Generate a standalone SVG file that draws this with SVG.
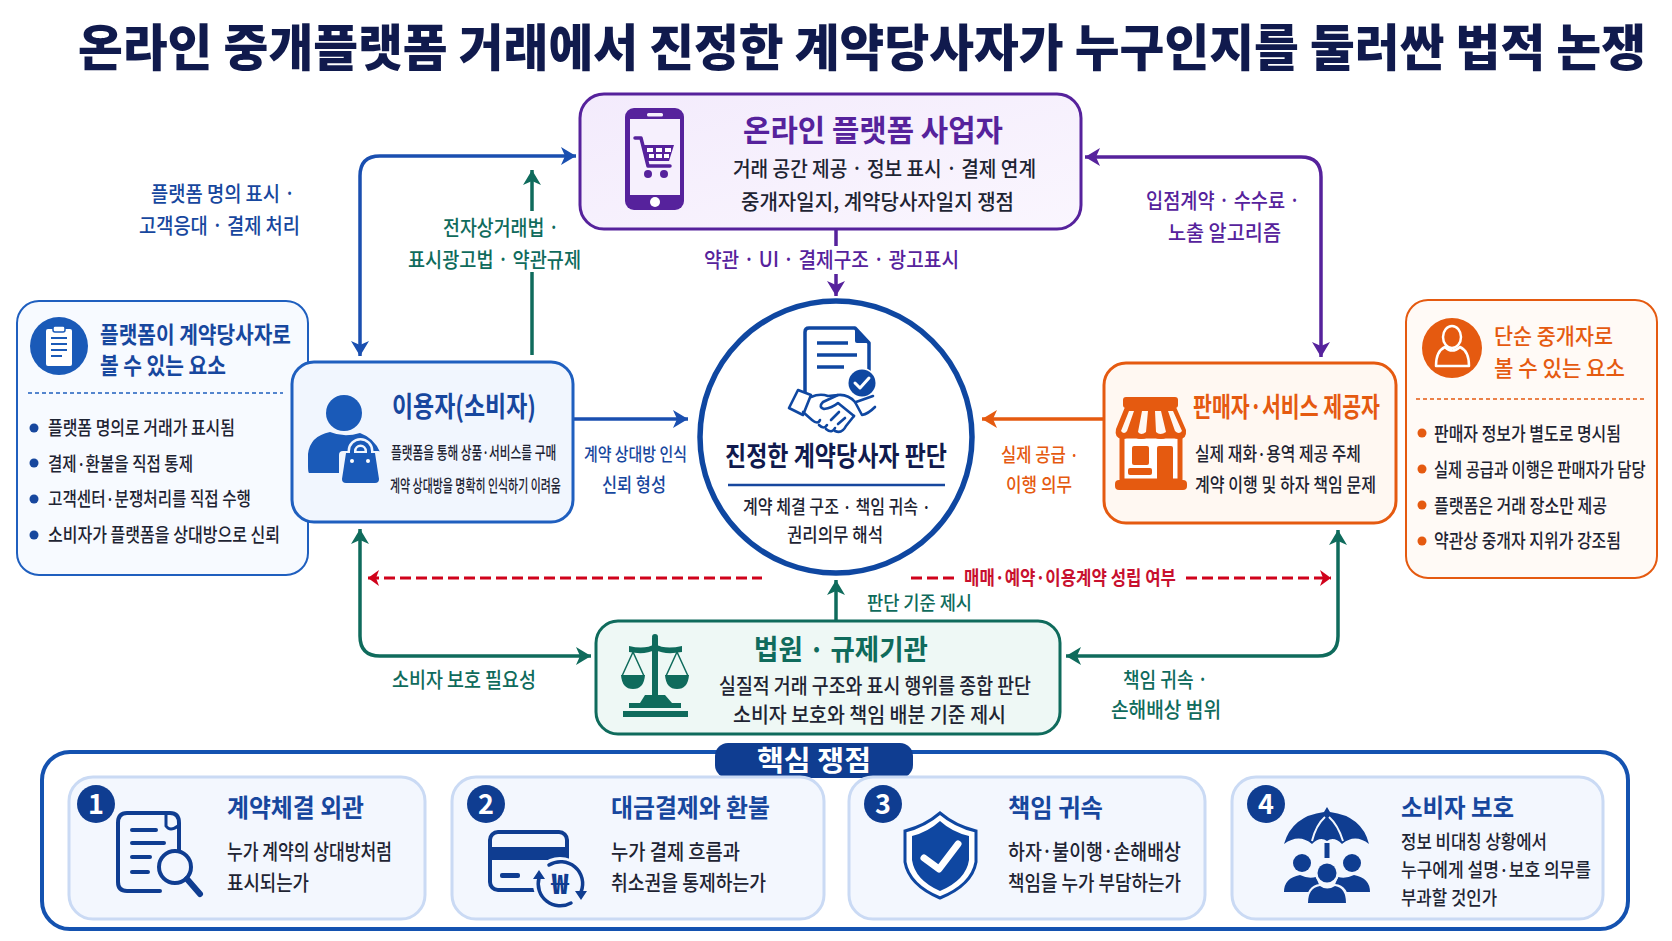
<svg xmlns="http://www.w3.org/2000/svg" width="1672" height="941" viewBox="0 0 1672 941">
<style>
text{font-family:"Noto Sans CJK KR","Noto Sans",sans-serif;font-weight:500}
.b{font-weight:700}
.t{fill:#1e2433}
.blue{fill:#17479e}.pur{fill:#56229c}.org{fill:#e55a10}.grn{fill:#0f6b5c}.red{fill:#c8102e}.navy{fill:#101a4d}
.s20{font-size:21px}.s19{font-size:19px}.s24{font-size:25px}
.box{stroke-width:3}
.c{fill:none;stroke-width:3.5;stroke-linejoin:round}
.ic{fill:#0f3d91}
.ics{fill:none;stroke:#0f3d91;stroke-linecap:round;stroke-linejoin:round}
.card{fill:#f3f7fe;stroke:#cadaf4;stroke-width:3}
</style>
<defs>
<marker id="mB" markerUnits="userSpaceOnUse" markerWidth="18" markerHeight="20" refX="15" refY="9" orient="auto-start-reverse"><path d="M0 0L15 9L0 18L4 9Z" fill="#1a4fb0"/></marker>
<marker id="mP" markerUnits="userSpaceOnUse" markerWidth="18" markerHeight="20" refX="15" refY="9" orient="auto-start-reverse"><path d="M0 0L15 9L0 18L4 9Z" fill="#56229c"/></marker>
<marker id="mG" markerUnits="userSpaceOnUse" markerWidth="18" markerHeight="20" refX="15" refY="9" orient="auto-start-reverse"><path d="M0 0L15 9L0 18L4 9Z" fill="#0f6b5c"/></marker>
<marker id="mO" markerUnits="userSpaceOnUse" markerWidth="18" markerHeight="20" refX="15" refY="9" orient="auto-start-reverse"><path d="M0 0L15 9L0 18L4 9Z" fill="#e55a10"/></marker>
<marker id="mR" markerUnits="userSpaceOnUse" markerWidth="14" markerHeight="18" refX="11" refY="8" orient="auto-start-reverse"><path d="M0 0L11 8L0 16L3 8Z" fill="#d0021b"/></marker>
<linearGradient id="gP" x1="0" y1="0" x2="1" y2="1"><stop offset="0" stop-color="#f3ebfc"/><stop offset="1" stop-color="#faf6fe"/></linearGradient>
</defs>
<rect width="1672" height="941" fill="#fff"/>
<text id="title" class="navy" x="78" y="66" font-size="49.500" style="font-weight:900" textLength="1568" lengthAdjust="spacingAndGlyphs">온라인 중개플랫폼 거래에서 진정한 계약당사자가 누구인지를 둘러싼 법적 논쟁</text>

<g id="connectors">
<path class="c" stroke="#1a4fb0" marker-start="url(#mB)" marker-end="url(#mB)" d="M360 356V176Q360 156 380 156H576"/>
<path class="c" stroke="#0f6b5c" marker-end="url(#mG)" d="M532 355V272M532 211V170"/>
<path class="c" stroke="#56229c" marker-end="url(#mP)" d="M836 229V246M836 274V296"/>
<path class="c" stroke="#56229c" marker-start="url(#mP)" marker-end="url(#mP)" d="M1085 157H1301Q1321 157 1321 177V357"/>
<path class="c" stroke="#1a4fb0" marker-end="url(#mB)" d="M573 419H688"/>
<path class="c" stroke="#e55a10" marker-end="url(#mO)" d="M1104 419H982"/>
<path class="c" stroke="#d0021b" style="stroke-width:3" stroke-dasharray="11 5" marker-start="url(#mR)" d="M368 578H762"/>
<path class="c" stroke="#d0021b" style="stroke-width:3" stroke-dasharray="11 5" d="M911 578H958"/>
<path class="c" stroke="#d0021b" style="stroke-width:3" stroke-dasharray="11 5" marker-end="url(#mR)" d="M1186 578H1331"/>
<path class="c" stroke="#0f6b5c" marker-end="url(#mG)" d="M836 621V580"/>
<path class="c" stroke="#0f6b5c" marker-start="url(#mG)" marker-end="url(#mG)" d="M360 529V636Q360 656 380 656H591"/>
<path class="c" stroke="#0f6b5c" marker-start="url(#mG)" marker-end="url(#mG)" d="M1338 530V636Q1338 656 1318 656H1066"/>
</g>

<g id="connector-labels">
<text class="blue s20" x="151" y="201" textLength="144" lengthAdjust="spacingAndGlyphs">플랫폼 명의 표시 ·</text>
<text class="blue s20" x="139" y="233" textLength="161" lengthAdjust="spacingAndGlyphs">고객응대 · 결제 처리</text>
<text class="grn s20" x="443" y="235" textLength="116" lengthAdjust="spacingAndGlyphs">전자상거래법 ·</text>
<text class="grn s20" x="408" y="267" textLength="173" lengthAdjust="spacingAndGlyphs">표시광고법 · 약관규제</text>
<text class="pur s20" x="704" y="267" textLength="255" lengthAdjust="spacingAndGlyphs">약관 · UI · 결제구조 · 광고표시</text>
<text class="pur s20" x="1146" y="208" textLength="154" lengthAdjust="spacingAndGlyphs">입점계약 · 수수료 ·</text>
<text class="pur s20" x="1168" y="240" textLength="113" lengthAdjust="spacingAndGlyphs">노출 알고리즘</text>
<text class="blue" x="584" y="461" font-size="18" textLength="103" lengthAdjust="spacingAndGlyphs">계약 상대방 인식</text>
<text class="blue s19" x="602" y="492" textLength="64" lengthAdjust="spacingAndGlyphs">신뢰 형성</text>
<text class="org s19" x="1001" y="462" textLength="78" lengthAdjust="spacingAndGlyphs">실제 공급 ·</text>
<text class="org s19" x="1006" y="492" textLength="66" lengthAdjust="spacingAndGlyphs">이행 의무</text>
<text class="red b s19" x="964" y="585" textLength="212" lengthAdjust="spacingAndGlyphs">매매·예약·이용계약 성립 여부</text>
<text class="grn s19" x="867" y="610" textLength="105" lengthAdjust="spacingAndGlyphs">판단 기준 제시</text>
<text class="grn s20" x="392" y="687" textLength="144" lengthAdjust="spacingAndGlyphs">소비자 보호 필요성</text>
<text class="grn s20" x="1123" y="687" textLength="85" lengthAdjust="spacingAndGlyphs">책임 귀속 ·</text>
<text class="grn s20" x="1111" y="717" textLength="110" lengthAdjust="spacingAndGlyphs">손해배상 범위</text>
</g>

<g id="node-platform">
<rect class="box" x="580" y="94" width="501" height="135" rx="24" fill="url(#gP)" stroke="#56229c"/>
<rect x="625" y="108" width="59" height="102" rx="9" fill="#56229c"/>
<rect x="630" y="119" width="50" height="76" fill="#f6f0fd"/>
<rect x="647" y="113" width="16" height="3.500" rx="1.500" fill="#f6f0fd"/>
<circle cx="655" cy="202" r="5" fill="#fff"/>
<path d="M635 138H641L648 166H670" fill="none" stroke="#56229c" stroke-width="3.500" stroke-linecap="round" stroke-linejoin="round"/>
<path d="M642 145H674L669 161H646Z" fill="#56229c"/>
<path d="M647 148h6v4h-6zM656 148h6v4h-6zM665 148h6v4h-6zM649 154h5v4h-5zM656 154h6v4h-6zM664 154h5v4h-5z" fill="#fff"/>
<circle cx="648" cy="174" r="4" fill="#56229c"/><circle cx="664" cy="174" r="4" fill="#56229c"/>
<text class="b pur" x="743" y="141" font-size="30" textLength="260" lengthAdjust="spacingAndGlyphs">온라인 플랫폼 사업자</text>
<text class="t s20" x="733" y="176" textLength="303" lengthAdjust="spacingAndGlyphs">거래 공간 제공 · 정보 표시 · 결제 연계</text>
<text class="t s20" x="741" y="209" textLength="273" lengthAdjust="spacingAndGlyphs">중개자일지, 계약당사자일지 쟁점</text>
</g>

<g id="panel-left">
<rect x="17" y="301" width="291" height="274" rx="22" fill="#f7faff" stroke="#1f5fbf" stroke-width="2"/>
<circle cx="59" cy="346" r="29" fill="#1a5ab8"/>
<rect x="46" y="329" width="26" height="37" rx="2" fill="#fff"/>
<rect x="53" y="326" width="12" height="6" rx="2" fill="#fff" stroke="#1a5ab8" stroke-width="1.500"/>
<path d="M51 338H67M51 344H67M51 350H67M51 356H62" stroke="#1a5ab8" stroke-width="2"/>
<text class="b blue" x="100" y="343" font-size="23" textLength="191" lengthAdjust="spacingAndGlyphs">플랫폼이 계약당사자로</text>
<text class="b blue" x="100" y="374" font-size="23" textLength="126" lengthAdjust="spacingAndGlyphs">볼 수 있는 요소</text>
<path d="M28 393H283" stroke="#1f5fbf" stroke-width="1.500" stroke-dasharray="4 3"/>
<g fill="#17479e"><circle cx="34" cy="428" r="4.500"/><circle cx="34" cy="463" r="4.500"/><circle cx="34" cy="499" r="4.500"/><circle cx="34" cy="535" r="4.500"/></g>
<text class="t s19" x="48" y="435" textLength="187" lengthAdjust="spacingAndGlyphs">플랫폼 명의로 거래가 표시됨</text>
<text class="t s19" x="48" y="471" textLength="145" lengthAdjust="spacingAndGlyphs">결제·환불을 직접 통제</text>
<text class="t s19" x="48" y="506" textLength="203" lengthAdjust="spacingAndGlyphs">고객센터·분쟁처리를 직접 수행</text>
<text class="t s19" x="48" y="542" textLength="232" lengthAdjust="spacingAndGlyphs">소비자가 플랫폼을 상대방으로 신뢰</text>
</g>

<g id="node-user">
<rect class="box" x="292" y="362" width="281" height="160" rx="22" fill="#f1f6fe" stroke="#1f5fbf"/>
<circle cx="344" cy="413" r="18" fill="#1a5ab8"/>
<path d="M309 473Q308 472 308 466V454Q310 436 330 432Q344 438 360 433Q374 438 380 452V473Z" fill="#1a5ab8"/>
<path d="M352 455V451A8.500 8.500 0 0 1 369 451V455" fill="none" stroke="#f1f6fe" stroke-width="9"/>
<rect x="339" y="451" width="43" height="36" rx="4" fill="#f1f6fe"/>
<path d="M352 455V451A8.500 8.500 0 0 1 369 451V455" fill="none" stroke="#1a5ab8" stroke-width="4"/>
<path d="M346 453H375L379 479Q379 483 375 483H346Q342 483 342 479Z" fill="#1a5ab8"/>
<circle cx="352" cy="461" r="2" fill="#fff"/><circle cx="368" cy="461" r="2" fill="#fff"/>
<text class="b blue" x="392" y="417" font-size="28" textLength="144" lengthAdjust="spacingAndGlyphs">이용자(소비자)</text>
<text class="t" transform="translate(391 459) scale(.68 1)" font-size="17" textLength="243" lengthAdjust="spacingAndGlyphs">플랫폼을 통해 상품·서비스를 구매</text>
<text class="t" transform="translate(390 492) scale(.64 1)" font-size="17" textLength="267" lengthAdjust="spacingAndGlyphs">계약 상대방을 명확히 인식하기 이려움</text>
</g>

<g id="node-judgment">
<circle cx="836" cy="437" r="136" fill="#fff" stroke="#0f47a1" stroke-width="5.500"/>
<path d="M805 392V332Q805 328 809 328H855L869 343V376" fill="#fff" stroke="#0f47a1" stroke-width="3.500" stroke-linejoin="round"/>
<path d="M855 328L869 343H857Q855 343 855 341Z" fill="#0f47a1"/>
<path d="M817 343H848M817 355H857M817 367H844" stroke="#0f47a1" stroke-width="3.500"/>
<circle cx="862" cy="383" r="15" fill="#fff"/><circle cx="862" cy="383" r="13.500" fill="#0f47a1"/>
<path d="M855 383L860 388L869 378" fill="none" stroke="#fff" stroke-width="3" stroke-linecap="round" stroke-linejoin="round"/>
<g fill="none" stroke="#0f47a1" stroke-width="2.600" stroke-linejoin="round" stroke-linecap="round">
<path d="M798 390L811 395L803 415L789 408Z"/>
<path d="M856 402L873 396" /><path d="M855 402L862 415Q868 414 875 407"/>
<path d="M811 397Q820 393 828 396L838 395Q848 394 855 402"/>
<path d="M838 395L823 402Q818 407 824 409Q832 408 838 403L854 416"/>
<path d="M803 412L812 420M812 420Q818 425 820 420M819 425Q824 430 827 425M826 429Q832 434 835 428M835 431Q842 434 846 426L854 416"/>
<path d="M838 424L845 418M831 420L839 412"/>
</g>
<text class="b navy" x="725" y="466" font-size="27" textLength="222" lengthAdjust="spacingAndGlyphs">진정한 계약당사자 판단</text>
<path d="M728 485H945" stroke="#17479e" stroke-width="2.500"/>
<text class="t s19" x="743" y="514" textLength="188" lengthAdjust="spacingAndGlyphs">계약 체결 구조 · 책임 귀속 ·</text>
<text class="t s19" x="787" y="542" textLength="96" lengthAdjust="spacingAndGlyphs">권리의무 해석</text>
</g>

<g id="node-seller">
<rect class="box" x="1104" y="363" width="292" height="160" rx="22" fill="#fff8f2" stroke="#e55a10"/>
<rect x="1123" y="397" width="55" height="11" rx="3" fill="#e55a10"/>
<path d="M1122 462V436H1180V481H1122Z" fill="#fff" stroke="#e55a10" stroke-width="5"/>
<path d="M1125 407H1176L1186 430Q1187 439 1179 439Q1173 439 1170 434Q1167 439 1161 439Q1154 439 1151 434Q1148 439 1141 439Q1135 439 1132 434Q1128 439 1122 439Q1114 438 1116 429Z" fill="#e55a10"/>
<path d="M1129 411H1134L1127 431Q1124 435 1121 431ZM1142 411H1148L1146 432Q1141 436 1138 432ZM1155 411H1161L1166 432Q1160 436 1156 432ZM1168 411H1173L1182 431Q1179 435 1175 431Z" fill="#fff8f2"/>
<rect x="1132" y="446" width="17" height="19" rx="2" fill="#e55a10"/>
<rect x="1128" y="468" width="24" height="7" rx="2" fill="#e55a10"/>
<rect x="1157" y="446" width="16" height="36" rx="2" fill="#e55a10"/>
<rect x="1115" y="480" width="72" height="10" rx="4" fill="#e55a10"/>
<text class="b org" x="1193" y="417" font-size="27" textLength="187" lengthAdjust="spacingAndGlyphs">판매자·서비스 제공자</text>
<text class="t s19" x="1195" y="461" textLength="166" lengthAdjust="spacingAndGlyphs">실제 재화·용역 제공 주체</text>
<text class="t s19" x="1195" y="492" textLength="181" lengthAdjust="spacingAndGlyphs">계약 이행 및 하자 책임 문제</text>
</g>

<g id="panel-right">
<rect x="1406" y="300" width="251" height="278" rx="22" fill="#fffaf6" stroke="#e55a10" stroke-width="2"/>
<circle cx="1452" cy="348" r="30" fill="#e55a10"/>
<ellipse cx="1452" cy="337" rx="9" ry="11" fill="none" stroke="#fff" stroke-width="2.500"/>
<path d="M1445 347Q1436 351 1436 366H1469Q1469 351 1460 347Q1452 354 1445 347Z" fill="none" stroke="#fff" stroke-width="2.500" stroke-linejoin="round"/>
<text class="org" x="1494" y="344" font-size="22" textLength="119" lengthAdjust="spacingAndGlyphs">단순 중개자로</text>
<text class="org" x="1494" y="376" font-size="22" textLength="131" lengthAdjust="spacingAndGlyphs">볼 수 있는 요소</text>
<path d="M1416 399H1646" stroke="#e55a10" stroke-width="1.500" stroke-dasharray="4 3"/>
<g fill="#e55a10"><circle cx="1422" cy="433" r="4.500"/><circle cx="1422" cy="469" r="4.500"/><circle cx="1422" cy="505" r="4.500"/><circle cx="1422" cy="541" r="4.500"/></g>
<text class="t s19" x="1434" y="441" textLength="187" lengthAdjust="spacingAndGlyphs">판매자 정보가 별도로 명시됨</text>
<text class="t s19" transform="translate(1434 477) scale(.82 1)" textLength="258" lengthAdjust="spacingAndGlyphs">실제 공급과 이행은 판매자가 담당</text>
<text class="t s19" x="1434" y="513" textLength="173" lengthAdjust="spacingAndGlyphs">플랫폼은 거래 장소만 제공</text>
<text class="t s19" x="1434" y="548" textLength="187" lengthAdjust="spacingAndGlyphs">약관상 중개자 지위가 강조됨</text>
</g>

<g id="node-court">
<rect class="box" x="596" y="621" width="464" height="113" rx="22" fill="#eef8f5" stroke="#0f6b5c"/>
<g fill="#0f6b5c" stroke="none">
<circle cx="655" cy="637" r="3"/><rect x="652" y="638" width="6" height="58"/>
<path d="M629 646Q645 650 655 644Q665 650 682 646V652Q665 655 655 650Q645 655 629 652Z"/>
<path d="M621 675H645Q644 689 633 689Q622 689 621 675Z"/>
<path d="M665 675H689Q688 689 677 689Q666 689 665 675Z"/>
<path d="M645 695H665L672 703H640Z"/>
<rect x="629" y="703" width="52" height="5"/><rect x="623" y="711" width="65" height="6"/>
</g>
<path d="M633 652L622 676M633 652L644 676M677 652L666 676M677 652L688 676" stroke="#0f6b5c" stroke-width="1.500" fill="none"/>
<text class="b grn" x="754" y="660" font-size="28" textLength="174" lengthAdjust="spacingAndGlyphs">법원 · 규제기관</text>
<text class="t s20" x="719" y="693" textLength="312" lengthAdjust="spacingAndGlyphs">실질적 거래 구조와 표시 행위를 종합 판단</text>
<text class="t s20" x="733" y="722" textLength="273" lengthAdjust="spacingAndGlyphs">소비자 보호와 책임 배분 기준 제시</text>
</g>

<g id="issues">
<rect x="42" y="752" width="1586" height="177" rx="28" fill="#fff" stroke="#1452b0" stroke-width="4"/>
<rect x="715" y="743" width="198" height="35" rx="13" fill="#0f3d91"/>
<text class="b" x="757" y="771" font-size="28" fill="#fff" textLength="114" lengthAdjust="spacingAndGlyphs">핵심 쟁점</text>
</g>

<g id="issue-1">
<rect class="card" x="69" y="777" width="356" height="142" rx="24"/>
<circle class="ic" cx="96" cy="804" r="19"/><text class="b" x="96" y="814" font-size="27" fill="#fff" text-anchor="middle">1</text>
<path class="ics" stroke-width="4" d="M179 856V823Q179 813 170 813H127Q118 813 118 823V882Q118 891 127 891H160"/>
<path class="ics" stroke-width="3" d="M166 814V826Q170 832 178 826"/>
<path class="ics" stroke-width="4" d="M132 830H156M132 843H164M132 857H150M132 872H148"/>
<circle cx="175" cy="867" r="16" fill="#f3f7fe" stroke="#0f3d91" stroke-width="4"/>
<path class="ics" stroke-width="6" d="M187 879L200 894"/>
<text class="b blue s24" x="227" y="817" textLength="137" lengthAdjust="spacingAndGlyphs">계약체결 외관</text>
<text class="t s20" x="227" y="859" textLength="165" lengthAdjust="spacingAndGlyphs">누가 계약의 상대방처럼</text>
<text class="t s20" x="227" y="890" textLength="82" lengthAdjust="spacingAndGlyphs">표시되는가</text>
</g>

<g id="issue-2">
<rect class="card" x="452" y="777" width="372" height="142" rx="24"/>
<circle class="ic" cx="486" cy="804" r="19"/><text class="b" x="486" y="814" font-size="27" fill="#fff" text-anchor="middle">2</text>
<rect x="490" y="832" width="77" height="58" rx="8" fill="none" stroke="#0f3d91" stroke-width="4"/>
<rect x="490" y="847" width="77" height="13" fill="#0f3d91"/>
<rect x="500" y="873" width="20" height="5" rx="2" fill="#0f3d91"/>
<circle cx="560" cy="884" r="27" fill="#f3f7fe"/>
<path class="ics" stroke-width="3.500" d="M549 865A22 22 0 0 1 581 892M571 903A22 22 0 0 1 539 878"/>
<path d="M575 891H587L581 900ZM533 879H545L539 870Z" fill="#0f3d91"/>
<text x="560" y="894" font-size="28" fill="#0f3d91" text-anchor="middle" style="font-weight:900">₩</text>
<text class="b blue s24" x="611" y="817" textLength="159" lengthAdjust="spacingAndGlyphs">대금결제와 환불</text>
<text class="t s20" x="611" y="859" textLength="129" lengthAdjust="spacingAndGlyphs">누가 결제 흐름과</text>
<text class="t s20" x="611" y="890" textLength="155" lengthAdjust="spacingAndGlyphs">취소권을 통제하는가</text>
</g>

<g id="issue-3">
<rect class="card" x="849" y="777" width="356" height="142" rx="24"/>
<circle class="ic" cx="883" cy="804" r="19"/><text class="b" x="883" y="814" font-size="27" fill="#fff" text-anchor="middle">3</text>
<path d="M940 813Q925 826 905 831V862Q909 885 940 898Q972 885 976 862V831Q955 826 940 813Z" fill="#fff" stroke="#0f47a1" stroke-width="3"/>
<path d="M940 821Q928 832 912 836V860Q915 880 940 891Q966 880 969 860V836Q952 832 940 821Z" fill="#0f47a1"/>
<path d="M924 858L939 869L958 844" fill="none" stroke="#fff" stroke-width="7" stroke-linecap="round" stroke-linejoin="round"/>
<text class="b blue s24" x="1008" y="817" textLength="95" lengthAdjust="spacingAndGlyphs">책임 귀속</text>
<text class="t s20" x="1008" y="859" textLength="173" lengthAdjust="spacingAndGlyphs">하자·불이행·손해배상</text>
<text class="t s20" x="1008" y="890" textLength="173" lengthAdjust="spacingAndGlyphs">책임을 누가 부담하는가</text>
</g>

<g id="issue-4">
<rect class="card" x="1232" y="777" width="371" height="142" rx="24"/>
<circle class="ic" cx="1266" cy="804" r="19"/><text class="b" x="1266" y="814" font-size="27" fill="#fff" text-anchor="middle">4</text>
<g class="ic">
<path d="M1327 807L1330 812Q1362 816 1369 844Q1355 833 1342 844Q1334 836 1327 841Q1320 836 1312 844Q1299 833 1284 844Q1292 816 1324 812Z"/>
<rect x="1324.500" y="843" width="5" height="15"/>
<circle cx="1302" cy="863" r="9"/><circle cx="1352" cy="863" r="9"/>
<path d="M1284 892Q1284 878 1300 875Q1308 879 1316 877L1322 892ZM1370 892Q1370 878 1354 875Q1346 879 1338 877L1332 892Z"/>
</g>
<circle cx="1327" cy="873" r="12" fill="#f3f7fe"/>
<path d="M1306 905Q1306 885 1320 884Q1327 889 1335 884Q1349 885 1349 905Z" fill="#f3f7fe"/>
<circle class="ic" cx="1327" cy="873" r="9.500"/>
<path class="ic" d="M1308 903Q1308 888 1320 886Q1327 891 1335 886Q1346 888 1346 903Z"/>
<path d="M1325 817Q1316 825 1312 841M1329 817Q1338 825 1343 841" fill="none" stroke="#f3f7fe" stroke-width="2"/>
<text class="b blue s24" x="1401" y="817" textLength="113" lengthAdjust="spacingAndGlyphs">소비자 보호</text>
<text class="t s19" x="1401" y="849" textLength="146" lengthAdjust="spacingAndGlyphs">정보 비대칭 상황에서</text>
<text class="t s19" x="1401" y="877" textLength="190" lengthAdjust="spacingAndGlyphs">누구에게 설명·보호 의무를</text>
<text class="t s19" x="1401" y="905" textLength="96" lengthAdjust="spacingAndGlyphs">부과할 것인가</text>
</g>
</svg>
